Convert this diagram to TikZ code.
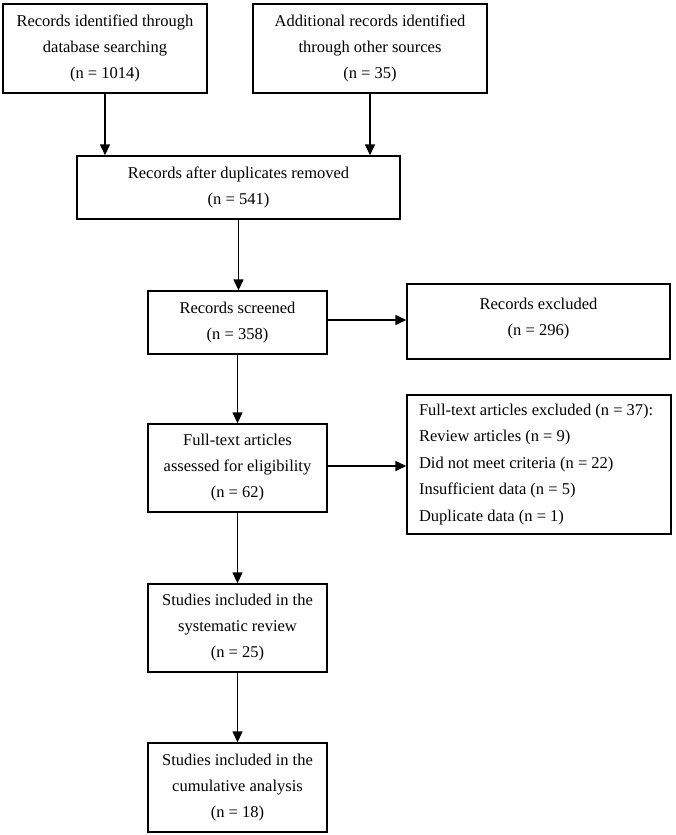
\documentclass[tikz,border=0pt]{standalone}
\usepackage{fontspec}
\setmainfont{Liberation Serif}
\usetikzlibrary{arrows.meta}

\tikzset{
  flowbox/.style={draw, line width=1.4pt, align=center, inner sep=0pt,
    font=\fontsize{16.5}{26}\selectfont},
  arr/.style={line width=1.4pt, -{Triangle[length=11pt,width=10pt]}}
}

\begin{document}
\begin{tikzpicture}[x=1pt, y=-1pt]
		\useasboundingbox (0,0) rectangle (675,835);

		% identification
		\node[flowbox, minimum width=204pt, minimum height=89pt] (db) at (105,48.5)
			{Records identified through\\database searching\\(n = 1014)};
		\node[flowbox, minimum width=234pt, minimum height=89pt] (other) at (370,48.5)
			{Additional records identified\\through other sources\\(n = 35)};
		\node[flowbox, minimum width=323pt, minimum height=63pt] (dup) at (238.5,187.5)
			{Records after duplicates removed\\(n = 541)};

		% screening
		\node[flowbox, minimum width=179pt, minimum height=63pt] (scr) at (237.5,322.5)
			{Records screened\\(n = 358)};
		\node[flowbox, minimum width=263pt, minimum height=75pt] (excl) at (538.5,321.5)
			{Records excluded\\(n = 296)\\[-16pt]};

		% eligibility
		\node[flowbox, minimum width=264pt, minimum height=139pt, align=left] (ftx) at (539,464.5)
			{\parbox{240pt}{\fontsize{16.5}{26.5}\selectfont Full-text articles excluded (n = 37):\\
			Review articles (n = 9)\\Did not meet criteria (n = 22)\\
			Insufficient data (n = 5)\\Duplicate data (n = 1)}};
		\node[flowbox, minimum width=179pt, minimum height=88pt] (elig) at (237.5,468)
			{Full-text articles\\assessed for eligibility\\(n = 62)};

		% included
		\node[flowbox, minimum width=179pt, minimum height=88pt] (sys) at (237.5,628)
			{Studies included in the\\systematic review\\(n = 25)};
		\node[flowbox, minimum width=179pt, minimum height=89pt] (cum) at (237.5,787.5)
			{Studies included in the\\cumulative analysis\\(n = 18)};

		% draw arrows
		\draw[arr] (db.south) -- (db.south |- dup.north);
		\draw[arr] (other.south) -- (other.south |- dup.north);
		\draw[arr] (dup.south) -- (dup.south |- scr.north);
		\draw[arr] ([yshift=2.5pt]scr.east) -- ([yshift=2.5pt]scr.east -| excl.west);
		\draw[arr] (scr.south) -- (elig.north);
		\draw[arr] ([yshift=2pt]elig.east) -- ([yshift=2pt]elig.east -| ftx.west);
		\draw[arr] (elig.south) -- (sys.north);
		\draw[arr] (sys.south) -- (cum.north);
	\end{tikzpicture}
\end{document}
